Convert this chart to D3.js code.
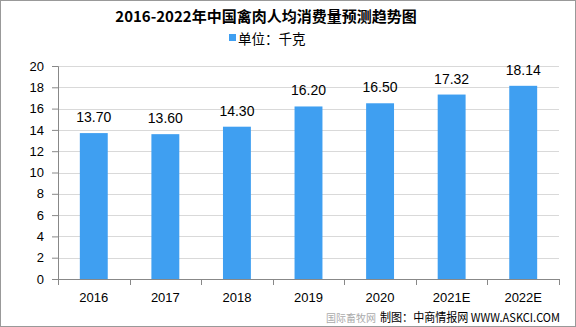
<!DOCTYPE html>
<html>
<head>
<meta charset="utf-8">
<script src="https://cdn.jsdelivr.net/npm/d3@7"></script>
<style>
  body { margin: 0; background: #fff; }
  text { font-family: "Liberation Sans", "Noto Sans CJK SC", sans-serif; }
</style>
</head>
<body>
<div id="chart"></div>
<script>
// data
var years = ["2016", "2017", "2018", "2019", "2020", "2021E", "2022E"];
var values = [13.70, 13.60, 14.30, 16.20, 16.50, 17.32, 18.14];
var yTicks = [0, 2, 4, 6, 8, 10, 12, 14, 16, 18, 20];

var W = 576, H = 327;
var margin = { top: 66, right: 17, bottom: 48, left: 58 },
  width = W - margin.left - margin.right,
  height = H - margin.top - margin.bottom;

var svg = d3.select("#chart").append("svg")
  .attr("width", W)
  .attr("height", H);

// outer frame
svg.append("rect")
  .attr("x", 0.5).attr("y", 0.5)
  .attr("width", W - 1).attr("height", H - 1)
  .style("fill", "none").style("stroke", "#999");

var g = svg.append("g")
  .attr("transform", "translate(" + margin.left + "," + margin.top + ")");

var x = d3.scaleBand().range([0, width]).domain(years).paddingInner(0.61).paddingOuter(0.305);
var y = d3.scaleLinear().range([height, 0]).domain([0, 20]);

// gridlines
g.selectAll(".grid")
  .data(yTicks.slice(1))
  .enter().append("line")
  .attr("x1", 0).attr("x2", width)
  .attr("y1", function (d) { return Math.round(y(d)) + 0.5; })
  .attr("y2", function (d) { return Math.round(y(d)) + 0.5; })
  .style("stroke", "#d9d9d9");

// y axis
var yAxis = g.append("g")
  .call(d3.axisLeft(y).tickValues(yTicks).tickSize(6).tickPadding(8));
yAxis.selectAll("text").style("font-size", "13px").style("fill", "#000")
  .style("font-family", "Liberation Sans, sans-serif");
yAxis.selectAll("line, path").style("stroke", "#888");

// x axis: ticks between categories
var xg = g.append("g").attr("transform", "translate(0," + height + ")");
xg.append("line").attr("x1", 0).attr("x2", width).attr("y1", 0.5).attr("y2", 0.5).style("stroke", "#888");
xg.selectAll(".xt")
  .data(d3.range(years.length + 1))
  .enter().append("line")
  .attr("x1", function (i) { return Math.round(i * width / years.length) + 0.5; })
  .attr("x2", function (i) { return Math.round(i * width / years.length) + 0.5; })
  .attr("y1", 0).attr("y2", 6)
  .style("stroke", "#888");
xg.selectAll(".xl")
  .data(years)
  .enter().append("text")
  .attr("x", function (d) { return x(d) + x.bandwidth() / 2; })
  .attr("y", 23)
  .attr("text-anchor", "middle")
  .style("font-size", "13px")
  .text(function (d) { return d; });

// bars
g.selectAll(".bar")
  .data(values)
  .enter().append("rect")
  .attr("x", function (d, i) { return x(years[i]); })
  .attr("y", function (d) { return y(d); })
  .attr("width", x.bandwidth())
  .attr("height", function (d) { return height - y(d); })
  .style("fill", "#3f9ff1");

// value labels
g.selectAll(".lbl")
  .data(values)
  .enter().append("text")
  .attr("x", function (d, i) { return x(years[i]) + x.bandwidth() / 2; })
  .attr("y", function (d) { return y(d) - 11; })
  .attr("text-anchor", "middle")
  .style("font-size", "14px")
  .text(function (d) { return d.toFixed(2); });

// title
svg.append("text")
  .attr("x", 266).attr("y", 22)
  .attr("text-anchor", "middle")
  .style("font-size", "15px").style("font-weight", "bold")
  .style("font-family", "Noto Sans CJK SC, sans-serif")
  .text("2016-2022年中国禽肉人均消费量预测趋势图");

// legend
svg.append("rect")
  .attr("x", 229).attr("y", 34).attr("width", 7).attr("height", 7)
  .style("fill", "#3f9ff1");
svg.append("text")
  .attr("x", 238).attr("y", 44)
  .style("font-size", "13.5px")
  .style("font-family", "Noto Sans CJK SC, sans-serif")
  .text("单位：千克");

// watermark
svg.append("text")
  .attr("x", 326).attr("y", 322)
  .style("font-size", "10px").style("fill", "#aaa")
  .style("font-family", "Noto Sans CJK SC, sans-serif")
  .text("国际畜牧网");

// source
svg.append("text")
  .attr("x", 380).attr("y", 322)
  .attr("textLength", 180).attr("lengthAdjust", "spacingAndGlyphs")
  .style("font-size", "12px")
  .style("font-family", "Noto Sans CJK SC, sans-serif")
  .text("制图：中商情报网 WWW.ASKCI.COM");
</script>
</body>
</html>
